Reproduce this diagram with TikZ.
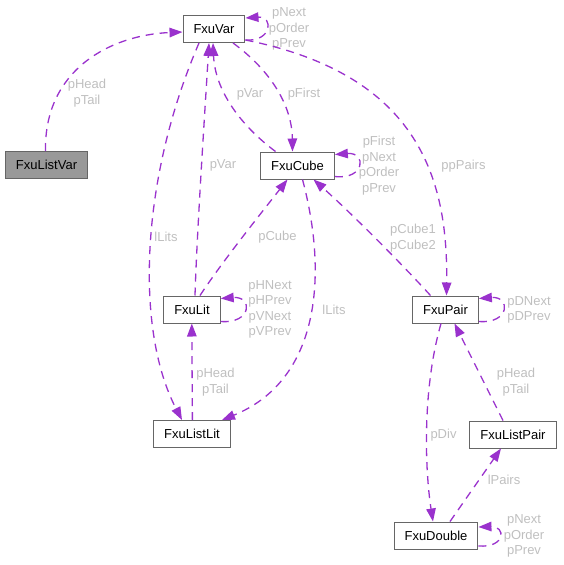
\documentclass[tikz,border=0pt]{standalone}
\usepackage{fontspec}
\setmainfont{Liberation Sans}
\usetikzlibrary{arrows.meta}
\definecolor{edgec}{HTML}{9A32CD}
\definecolor{labc}{HTML}{BFBFBF}
\definecolor{boxc}{HTML}{666666}
\definecolor{hlfill}{HTML}{999999}
\begin{document}
\begin{tikzpicture}[x=1pt,y=-1pt,
  cls/.style={draw=boxc,line width=1pt,fill=white,minimum height=27pt,inner xsep=10.5pt,inner ysep=0pt,
    font=\fontsize{13}{15}\selectfont},
  rel/.style={draw=edgec,line width=1.3pt,dash pattern=on 8pt off 6pt,-{Triangle[length=13pt,width=9.5pt]}},
  lab/.style={text=labc,align=center,font=\fontsize{13}{15.5}\selectfont,inner sep=0pt}]
\useasboundingbox (0,0) rectangle (563,565);
% nodes
\node[cls] (Var) at (214,29) {FxuVar};
\node[cls,fill=hlfill] (ListVar) at (46.5,165) {FxuListVar};
\node[cls] (Cube) at (297.5,165.5) {FxuCube};
\node[cls] (Lit) at (192,309.5) {FxuLit};
\node[cls] (ListLit) at (192,434) {FxuListLit};
\node[cls] (Pair) at (445.5,309.5) {FxuPair};
\node[cls] (ListPair) at (513,434.5) {FxuListPair};
\node[cls] (Double) at (436,535.5) {FxuDouble};
% edges
\draw[rel] ([xshift=-1pt]ListVar.north) .. controls (44,70) and (110,35) .. ([yshift=-3pt]Var.west);
\node[lab] (l1) at (87,93) {pHead\\pTail};
\draw[rel] ([yshift=-11pt]Var.east) .. controls (272,42) and (274,16) .. ([yshift=11pt]Var.east);
\node[lab] (l2) at (289,29) {pNext\\pOrder\\pPrev};
\draw[rel] ([xshift=19pt]Var.south) .. controls (270,70) and (292,105) .. ([xshift=-5pt]Cube.north);
\node[lab] (l3) at (304,94) {pFirst};
\draw[rel] ([xshift=-22pt]Cube.north) .. controls (240,125) and (215,90) .. ([xshift=-1pt]Var.south);
\node[lab] (l4) at (250,94) {pVar};
\draw[rel] ([xshift=3pt]Lit.north) .. controls (197,230) and (205,110) .. ([xshift=-5pt]Var.south);
\node[lab] (l5) at (223,165) {pVar};
\draw[rel] ([xshift=-15pt]Var.south) .. controls (140,180) and (135,330) .. ([xshift=-10pt]ListLit.north);
\node[lab] (l6) at (166,237) {lLits};
\draw[rel] ([yshift=-11pt]Var.east) .. controls (420,75) and (448,180) .. ([xshift=1pt]Pair.north);
\node[lab] (l7) at (463.5,166) {ppPairs};
\draw[rel] ([yshift=-11pt]Cube.east) .. controls (365,180) and (367,152) .. ([yshift=11pt]Cube.east);
\node[lab] (l8) at (379,165.5) {pFirst\\pNext\\pOrder\\pPrev};
\draw[rel] ([xshift=8pt]Lit.north) .. controls (222,262) and (262,212) .. ([xshift=-10pt]Cube.south);
\node[lab] (l9) at (277.5,237) {pCube};
\draw[rel] ([xshift=5pt]Cube.south) .. controls (328,275) and (320,380) .. ([xshift=30pt]ListLit.north);
\node[lab] (l10) at (334,310) {lLits};
\draw[rel] ([yshift=-12pt]Lit.east) .. controls (252,324) and (253,296) .. ([yshift=11pt]Lit.east);
\node[lab] (l11) at (270,309.5) {pHNext\\pHPrev\\pVNext\\pVPrev};
\draw[rel] ([xshift=0.4pt]ListLit.north) -- ([xshift=-0.2pt]Lit.south);
\node[lab] (l12) at (215.5,382) {pHead\\pTail};
\draw[rel] ([xshift=-15pt]Pair.north) .. controls (400,262) and (350,212) .. ([xshift=16pt]Cube.south);
\node[lab] (l13) at (413,238) {pCube1\\pCube2};
\draw[rel] ([yshift=-12pt]Pair.east) .. controls (510,324) and (511,296) .. ([yshift=11pt]Pair.east);
\node[lab] (l14) at (529,310) {pDNext\\pDPrev};
\draw[rel] ([xshift=-10pt]ListPair.north) -- ([xshift=9pt]Pair.south);
\node[lab] (l15) at (516,382) {pHead\\pTail};
\draw[rel] ([xshift=-4.5pt]Pair.south) .. controls (422,390) and (425,470) .. ([xshift=-3pt]Double.north);
\node[lab] (l16) at (443.5,435) {pDiv};
\draw[rel] ([xshift=14pt]Double.north) -- ([xshift=-12pt]ListPair.south);
\node[lab] (l17) at (504,480) {lPairs};
\draw[rel] ([yshift=-10.5pt]Double.east) .. controls (506,548) and (506,526) .. ([yshift=8.5pt]Double.east);
\node[lab] (l18) at (524,536) {pNext\\pOrder\\pPrev};
\end{tikzpicture}
\end{document}
